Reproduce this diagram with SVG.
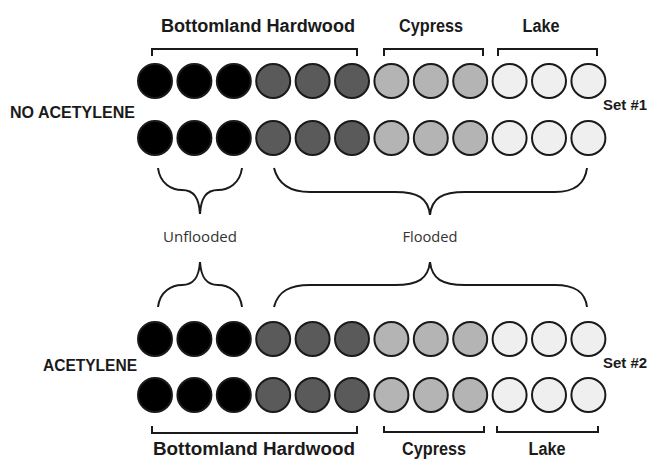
<svg xmlns="http://www.w3.org/2000/svg" width="649" height="459" viewBox="0 0 649 459">
  <style>
    .c { stroke: #1a1a1a; stroke-width: 2; }
    .k { fill: #000000; }
    .d { fill: #5a5a5a; }
    .m { fill: #b4b4b4; }
    .l { fill: #efefef; }
    .br { fill: none; stroke: #1a1a1a; stroke-width: 2; }
    .cb { fill: none; stroke: #1a1a1a; stroke-width: 2; }
    .h { font-family: "Liberation Sans", Arial, sans-serif; font-weight: bold; fill: #1a1a1a; }
    .r { font-family: "Open Sans", "Liberation Sans", sans-serif; fill: #333333; font-size: 14px; }
  </style>
  <defs>
    <g id="row">
      <circle class="c k" cx="155" cy="0" r="17"/>
      <circle class="c k" cx="194.4" cy="0" r="17"/>
      <circle class="c k" cx="233.8" cy="0" r="17"/>
      <circle class="c d" cx="273.2" cy="0" r="17"/>
      <circle class="c d" cx="312.6" cy="0" r="17"/>
      <circle class="c d" cx="352" cy="0" r="17"/>
      <circle class="c m" cx="391.4" cy="0" r="17"/>
      <circle class="c m" cx="430.8" cy="0" r="17"/>
      <circle class="c m" cx="470.2" cy="0" r="17"/>
      <circle class="c l" cx="509.6" cy="0" r="17"/>
      <circle class="c l" cx="549" cy="0" r="17"/>
      <circle class="c l" cx="588.4" cy="0" r="17"/>
    </g>
  </defs>

  <!-- Set #1: no acetylene -->
  <g id="set1">
    <use href="#row" transform="translate(0,81)"/>
    <use href="#row" transform="translate(0,138)"/>
    <text class="h" x="10" y="118" font-size="16" textLength="125" lengthAdjust="spacingAndGlyphs">NO ACETYLENE</text>
    <text class="h" x="603" y="110" font-size="14.5" textLength="44" lengthAdjust="spacingAndGlyphs">Set #1</text>
  </g>

  <!-- Set #2: acetylene -->
  <g id="set2">
    <use href="#row" transform="translate(0,339)"/>
    <use href="#row" transform="translate(0,395)"/>
    <text class="h" x="43" y="371" font-size="16" textLength="94" lengthAdjust="spacingAndGlyphs">ACETYLENE</text>
    <text class="h" x="603" y="368" font-size="14.5" textLength="44" lengthAdjust="spacingAndGlyphs">Set #2</text>
  </g>

  <!-- habitat labels, top -->
  <g id="top-labels">
    <path class="br" d="M152,56 V49 H357 V56"/>
    <path class="br" d="M384,56 V49 H483 V56"/>
    <path class="br" d="M498,56 V49 H597 V56"/>
    <text class="h" x="258" y="32" font-size="17.5" text-anchor="middle" textLength="194" lengthAdjust="spacingAndGlyphs">Bottomland Hardwood</text>
    <text class="h" x="431" y="32" font-size="17.5" text-anchor="middle" textLength="64" lengthAdjust="spacingAndGlyphs">Cypress</text>
    <text class="h" x="541" y="32" font-size="17.5" text-anchor="middle" textLength="37" lengthAdjust="spacingAndGlyphs">Lake</text>
  </g>

  <!-- habitat labels, bottom -->
  <g id="bottom-labels">
    <path class="br" d="M152,426 V433 H357 V426"/>
    <path class="br" d="M384,426 V432 H484 V426"/>
    <path class="br" d="M497,426 V432 H598 V426"/>
    <text class="h" x="254" y="455" font-size="17.5" text-anchor="middle" textLength="202" lengthAdjust="spacingAndGlyphs">Bottomland Hardwood</text>
    <text class="h" x="434" y="455" font-size="17.5" text-anchor="middle" textLength="64" lengthAdjust="spacingAndGlyphs">Cypress</text>
    <text class="h" x="547" y="455" font-size="17.5" text-anchor="middle" textLength="37" lengthAdjust="spacingAndGlyphs">Lake</text>
  </g>

  <!-- grouping braces -->
  <g id="connectors">
    <path class="cb" d="M158,168 C160,184 172,190 182,190 C194,190 199,198 200,214 C201,198 206,190 218,190 C228,190 240,184 242,168"/>
    <path class="cb" d="M158,307 C160,291 172,285 182,285 C194,285 199,277 200,262 C201,277 206,285 218,285 C228,285 240,291 242,307"/>
    <path class="cb" d="M274,168 C278,184 290,192 310,192 L395,192 C418,192 428,198 430,215 C432,198 442,192 465,192 L555,192 C574,192 585,184 587,168"/>
    <path class="cb" d="M274,307 C278,291 290,285 310,285 L395,285 C418,285 428,279 430,262 C432,279 442,285 465,285 L555,285 C574,285 585,291 587,307"/>
  </g>

  <g id="flood-labels">
    <text class="r" x="200" y="242" text-anchor="middle" textLength="74" lengthAdjust="spacingAndGlyphs">Unflooded</text>
    <text class="r" x="430" y="242" text-anchor="middle" textLength="55" lengthAdjust="spacingAndGlyphs">Flooded</text>
  </g>
</svg>
